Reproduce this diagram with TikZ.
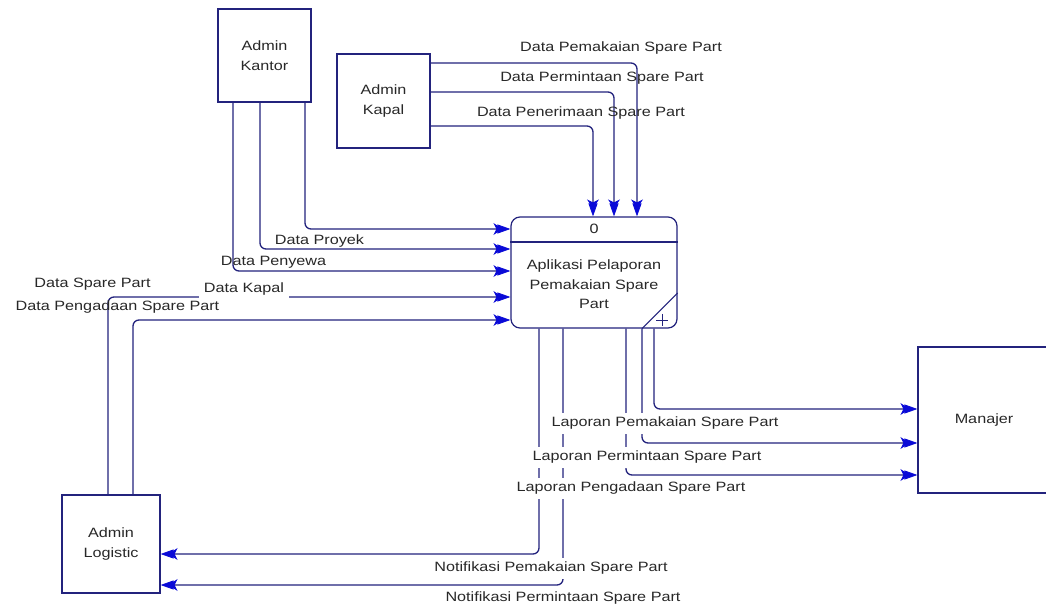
\documentclass[tikz,border=0pt]{standalone}
\usepackage{fontspec}
\setmainfont{Liberation Sans}[FakeStretch=1.2]
\usetikzlibrary{arrows.meta}
\definecolor{navy}{RGB}{35,35,125}
\definecolor{tipblue}{RGB}{10,10,215}
\definecolor{ink}{RGB}{40,40,40}

\begin{document}
\begin{tikzpicture}[x=1pt,y=-1pt,
  every node/.style={font=\fontsize{13.5}{20.5}\selectfont, text=ink},
  ent/.style={draw=navy, line width=1.2pt, fill=white, align=center, inner sep=0pt},
  proc/.style={draw=navy, line width=1.2pt, fill=white, rounded corners=9pt, inner sep=0pt},
  flowtip/.tip={Stealth[length=9pt,width=12pt,inset=3pt,sep=-5pt,color=tipblue,line width=0.8pt]
      Triangle[length=13pt,width=9pt,color=tipblue,line width=0.8pt]},
  flow/.style={draw=navy, line width=1.3pt, rounded corners=6pt, -flowtip},
  lblw/.style={fill=white, inner xsep=3pt, inner ysep=0pt, minimum height=21pt},
]
\useasboundingbox (0,0) rectangle (1046,609);
\fill[white] (0,0) rectangle (1046,609);

% external entities
\node[ent, minimum width=93pt, minimum height=93pt] (kantor) at (264.5,55.5) {Admin\\Kantor};
\node[ent, minimum width=93pt, minimum height=94pt] (kapal) at (383.5,101) {Admin\\Kapal};
\node[ent, minimum width=98pt, minimum height=98pt] (logistic) at (111,544) {Admin\\Logistic};
\node[ent, minimum width=132pt, minimum height=146pt] (manajer) at (984,420) {Manajer};

% process 0
\node[proc, minimum width=166pt, minimum height=111pt] (proc) at (594,272.5) {};
\draw[navy, line width=1.2pt] (proc.west |- 0,242) -- (proc.east |- 0,242);
\node (pid) at (594,229) {0};
\node[align=center, font=\fontsize{13.5}{19.5}\selectfont] (pname) at (594,284.5)
  {Aplikasi Pelaporan\\Pemakaian Spare\\Part};
\draw[navy, line width=1pt] (proc.south -| 642,0) -- (proc.east |- 0,293);
\draw[navy, line width=0.8pt] (656,320) -- (668,320) (662,314) -- (662,326);

% data flows
\draw[flow] (kapal.east |- 0,63) -| (proc.north -| 637,0);
\draw[flow] (kapal.east |- 0,92) -| (proc.north -| 614,0);
\draw[flow] (kapal.east |- 0,126) -| (proc.north -| 593,0);
\draw[flow] (kantor.south -| 305,0) |- (proc.west |- 0,229);
\draw[flow] (kantor.south -| 260,0) |- (proc.west |- 0,249);
\draw[flow] (kantor.south -| 233,0) |- (proc.west |- 0,271);
\draw[flow] (logistic.north -| 108,0) |- (proc.west |- 0,297);
\draw[flow] (logistic.north -| 133,0) |- (proc.west |- 0,320);
\draw[flow] (proc.south -| 654,0) |- (manajer.west |- 0,409);
\draw[flow] (proc.south -| 642,0) |- (manajer.west |- 0,443);
\draw[flow] (proc.south -| 626,0) |- (manajer.west |- 0,475);
\draw[flow] (proc.south -| 539,0) |- (logistic.east |- 0,554);
\draw[flow] (proc.south -| 563,0) |- (logistic.east |- 0,585);

% flow labels
\node (l1) at (621,48) {Data Pemakaian Spare Part};
\node (l2) at (602,78) {Data Permintaan Spare Part};
\node (l3) at (581,113) {Data Penerimaan Spare Part};
\node (l4) at (319.5,241) {Data Proyek};
\node (l5) at (273.5,262) {Data Penyewa};
\node[lblw, inner xsep=5pt, minimum height=22pt] (l6) at (244,289) {Data Kapal};
\node (l7) at (92.5,284) {Data Spare Part};
\node (l8) at (117.5,307) {Data Pengadaan Spare Part};
\node[lblw] (l9) at (665,423) {Laporan Pemakaian Spare Part};
\node[lblw] (l10) at (647,457) {Laporan Permintaan Spare Part};
\node[lblw] (l11) at (631,488) {Laporan Pengadaan Spare Part};
\node[lblw] (l12) at (551,568) {Notifikasi Pemakaian Spare Part};
\node[lblw] (l13) at (563,598) {Notifikasi Permintaan Spare Part};
\end{tikzpicture}
\end{document}
